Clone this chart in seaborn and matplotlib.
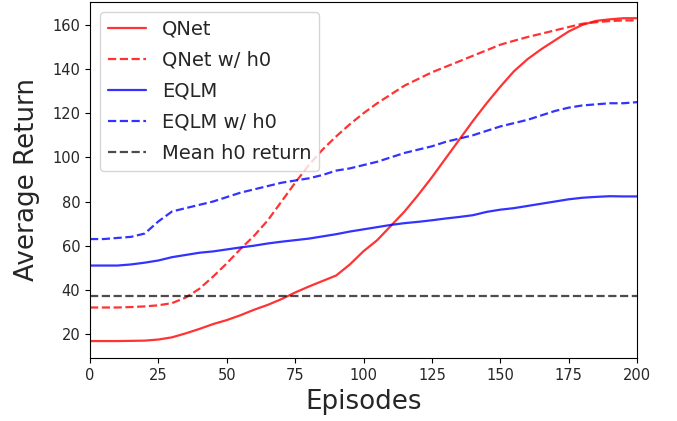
import numpy as np
import pandas as pd
import matplotlib
matplotlib.use("Agg")
import matplotlib.pyplot as plt
import seaborn as sns

episodes = list(range(0, 201, 5))

qnet = [16.8, 16.8, 16.8, 16.9, 17.0, 17.5, 18.5, 20.3, 22.3, 24.5, 26.3, 28.5, 31.0, 33.2,
        35.8, 38.8, 41.5, 44.0, 46.5, 51.5, 57.5, 62.5, 69.0, 75.5, 83.0, 91.0, 99.5,
        108.0, 116.5, 124.5, 132.0, 139.0, 144.5, 149.0, 153.0, 157.0, 160.0, 161.8,
        162.5, 163.0, 163.0]
qnet_h0 = [32.0, 32.0, 32.0, 32.2, 32.5, 33.0, 34.0, 36.5, 40.5, 46.0, 52.0, 58.5, 64.5,
           71.5, 80.0, 88.5, 96.5, 103.5, 109.5, 115.0, 120.0, 124.5, 128.5, 132.5, 135.5,
           138.5, 141.0, 143.5, 146.0, 148.5, 151.0, 152.8, 154.5, 156.0, 157.5, 159.0,
           160.5, 161.2, 161.7, 162.0, 162.0]
eqlm = [51.0, 51.0, 51.0, 51.5, 52.3, 53.3, 54.8, 55.8, 56.8, 57.4, 58.3, 59.2, 60.0, 61.0,
        61.8, 62.5, 63.2, 64.2, 65.2, 66.4, 67.4, 68.4, 69.4, 70.2, 70.8, 71.5, 72.3, 73.0,
        73.8, 75.3, 76.3, 77.0, 78.0, 79.0, 80.0, 81.0, 81.7, 82.1, 82.4, 82.3, 82.3]
eqlm_h0 = [63.0, 63.0, 63.5, 64.0, 65.5, 71.0, 75.5, 77.0, 78.5, 80.0, 82.0, 84.0, 85.5,
           87.0, 88.5, 89.5, 90.5, 92.0, 94.0, 95.0, 96.5, 98.0, 100.0, 102.0, 103.5,
           105.0, 107.0, 108.5, 110.0, 112.0, 114.0, 115.5, 117.0, 119.0, 121.0, 122.5,
           123.5, 124.0, 124.5, 124.5, 125.0]
mean_h0 = 37.3

sns.set_style("ticks")
plt.rcParams['font.family'] = ['DejaVu Sans']

fig = plt.figure(figsize=(6.77, 4.21), dpi=100)
ax = fig.add_axes([0.133, 0.150, 0.808, 0.845])

sns.lineplot(x=episodes, y=qnet, ax=ax, color='r', alpha=0.8, lw=1.6, label='QNet')
sns.lineplot(x=episodes, y=qnet_h0, ax=ax, color='r', alpha=0.8, lw=1.6, linestyle='--', label='QNet w/ h0')
sns.lineplot(x=episodes, y=eqlm, ax=ax, color='b', alpha=0.8, lw=1.6, label='EQLM')
sns.lineplot(x=episodes, y=eqlm_h0, ax=ax, color='b', alpha=0.8, lw=1.6, linestyle='--', label='EQLM w/ h0')
sns.lineplot(x=[episodes[0], episodes[-1]], y=[mean_h0, mean_h0], ax=ax, color='k', alpha=0.7,
             lw=1.6, linestyle='--', label='Mean h0 return')

ax.set_xlim(0, 200)
ax.set_ylim(9.2, 170.3)
ax.set_xticks([0, 25, 50, 75, 100, 125, 150, 175, 200])
ax.set_yticks([20, 40, 60, 80, 100, 120, 140, 160])
ax.tick_params(labelsize=10.5, color='black', length=3.5, width=0.8)
for s in ax.spines.values():
    s.set_visible(True)
    s.set_color('black')
    s.set_linewidth(0.8)
ax.set_xlabel('Episodes', fontsize=18.8, labelpad=4.5)
ax.set_ylabel('Average Return', fontsize=18.8, labelpad=9)
ax.legend(loc='upper left', fontsize=14, frameon=True, labelspacing=0.62)

fig.savefig('out.png', dpi=100)
